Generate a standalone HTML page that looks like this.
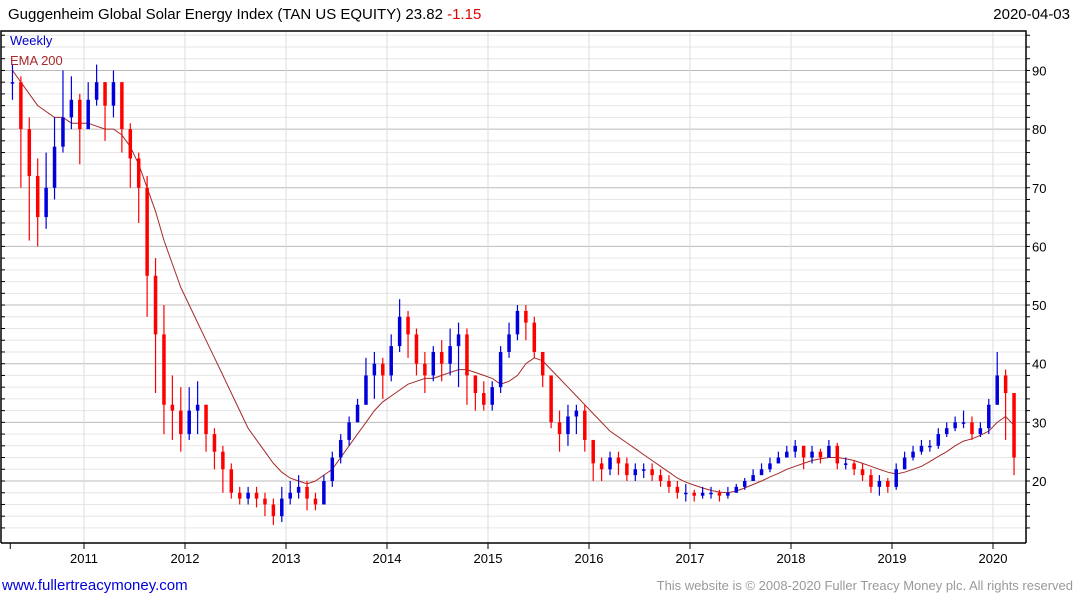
<!DOCTYPE html>
<html><head><meta charset="utf-8"><style>
html,body{margin:0;padding:0;background:#fff;}
svg{display:block;font-family:"Liberation Sans","DejaVu Sans",sans-serif;}
</style></head><body>
<svg id="chart" width="1075" height="600" viewBox="0 0 1075 600" xmlns="http://www.w3.org/2000/svg">
<text x="8" y="19" font-size="15" fill="#000">Guggenheim Global Solar Energy Index (TAN US EQUITY) 23.82 <tspan fill="#e00000">-1.15</tspan></text>
<text x="1070" y="19" font-size="15" fill="#000" text-anchor="end">2020-04-03</text>
<g id="grid"></g>
<g id="ema"></g>
<g id="bars"></g>
<g id="axes"></g>
<text x="10" y="45" font-size="13" fill="#0000cc">Weekly</text>
<text x="10" y="65" font-size="13" fill="#a52a2a">EMA 200</text>
<text x="2" y="590" font-size="15" fill="#0000dd">www.fullertreacymoney.com</text>
<text x="1073" y="590" font-size="13" fill="#999" text-anchor="end">This website is © 2008-2020 Fuller Treacy Money plc. All rights reserved</text>
</svg>
<script>
const closes=[88,80,72,65,70,77,82,85,80,
85,88,84,88,80,75,70,55,45,33,32,28,
32,33,28,25,22,18,17,18,17,16,14,17,
18,19,17,16,20,24,27,30,33,38,40,38,
43,48,45,40,38,42,40,43,45,38,35,33,
36,42,45,49,47,42,38,30,28,31,32,27,
23,22,24,23,21,22,22,21,20,19,18,18,
17.5,18,18,17.5,18,19,20,21,22,23,24,25,
26,24,25,24,26,23,23,22,21,19,20,19,
22,24,25,26,26,28,29,30,30,28,29,33,
38,35,24];
const highs=[91,89,82,75,76,82,90,89,86,
88,91,88,90,88,81,76,72,58,50,38,36,
36,37,33,29,26,23,19,19,19,18,17,19,
20,21,20,18,21,25,28,31,34,41,42,41,
45,51,49,46,42,43,44,46,47,46,38,37,
37,43,47,50,50,48,42,38,32,33,33,33,
27,24,25,25,24,23,23,23,22,21,20,19.5,
18.5,19,19,18.5,19,19.5,20.5,22,23,24,25,26,
27,26,26,25.5,27,26.5,24,23.5,23,22,21,20.5,
23,25,26,27,27,29,30,31,32,31,30,34,
42,39,35];
const lows=[85,70,61,60,63,68,76,80,74,
80,84,78,82,76,70,64,48,35,28,27,25,
27,28,25,22,18,17,16,16,15.5,14,12.5,13,
16,17,15,15,16,19,23,26,30,33,34,34,
37,42,41,38,35,37,37,38,36,33,32,32,
32,35,41,44,44,41,36,29,25,26,28,25,
20,20,21,21,20,20,20.5,20,19,18,17,16.5,
16.5,17,17,16.5,17,18,18.5,20,21,21.5,23,24,
24,22,23,23,24,22,22,21,20,18,17.5,18,
18.5,22,23.5,24.5,25,25.5,27.5,28.5,29,27,27.5,28,
33,27,21];
const emaVals=[90,88,86,84,83,82,82,81,81,
81,80.5,80,80,79,77,74,70,66,61,57,53,
50,47,44,41,38,35,32,29,27,25,23,21.5,
20.5,20,19.5,20,21,22,24,26,28,30,32,33.5,
34.5,35.5,36.5,37,37.5,37.5,38,38.5,39,39,38.5,38,
37.5,36.5,37,38,40,41,40.5,39,37.5,36,34.5,33,
31.5,30,28.5,27.5,26.5,25.5,24.5,23.5,22.5,21.5,20.5,19.8,
19.3,18.8,18.4,18.1,18.0,18.3,18.8,19.4,20,20.7,21.3,22,
22.5,23,23.5,23.8,24,24,23.8,23.5,23,22.5,22,21.5,
21.2,21.5,22,22.5,23.3,24.2,25,26,26.8,27.2,27.8,28.5,
30,31,29.5];
const yearLabels=["2011","2012","2013","2014","2015","2016","2017","2018","2019","2020"];
const priceTicks=[20,30,40,50,60,70,80,90];

const NS="http://www.w3.org/2000/svg";
const L=1,R=1026,T=31,B=543;
function xYear(t){return 84+(t-2011)*101;}
function xMonth(i){return xYear(2010.25+(i+0.5)/12);}
function yVal(v){return 481-(v-20)*5.865;}
function mk(tag,attrs,parent){const e=document.createElementNS(NS,tag);for(const k in attrs)e.setAttribute(k,attrs[k]);parent.appendChild(e);return e;}
const grid=document.getElementById('grid'),axes=document.getElementById('axes'),bars=document.getElementById('bars'),emaG=document.getElementById('ema');
for(let v=12;v<=96;v+=2){const y=yVal(v);if(y<T||y>B)continue;
 const major=v%10===0;
 const ln=mk('line',{x1:L,x2:R,y1:y,y2:y,stroke:major?'#bbb':'#e6e6e6','stroke-width':1},grid);
 
 
 const tk=mk('line',{x1:R,x2:R+4,y1:y,y2:y,stroke:'#000'},axes);
 
 
 const tl=mk('line',{x1:L,x2:L+4,y1:y,y2:y,stroke:'#000'},axes);
 
 
}
priceTicks.forEach(v=>{const t=mk('text',{x:R+6,y:yVal(v)+5,'font-size':13,fill:'#000'},axes);t.textContent=v;
 
 });
yearLabels.forEach((s,i)=>{const x=xYear(+s);
 const g=mk('line',{x1:x,x2:x,y1:T,y2:B,stroke:'#ddd'},grid);
 
 
 const tk=mk('line',{x1:x,x2:x,y1:B,y2:B+6,stroke:'#000'},axes);
 
 
 const t=mk('text',{x:x,y:B+20,'font-size':13,'text-anchor':'middle',fill:'#000'},axes);t.textContent=s;
 
 });
const t0=mk('line',{x1:xYear(2010.27),x2:xYear(2010.27),y1:B,y2:B+6,stroke:'#000'},axes);


const fr=mk('polyline',{points:`${L},${B} ${L},${T} ${R},${T} ${R},${B}`,fill:'none',stroke:'#000','stroke-width':1.5},axes);


const bl=mk('line',{x1:L,x2:R,y1:B,y2:B,stroke:'#000','stroke-width':1.5},axes);


const pts=emaVals.map((v,i)=>xMonth(i).toFixed(1)+','+yVal(v).toFixed(1)).join(' ');
const el=mk('polyline',{points:pts,fill:'none',stroke:'#a52a2a','stroke-width':1},emaG);


closes.forEach((c,i)=>{const o=i>0?closes[i-1]:c;const up=c>=o;const col=up?'#0000dd':'#ff0000';const x=xMonth(i);
 const w=mk('line',{x1:x,x2:x,y1:yVal(highs[i]),y2:yVal(lows[i]),stroke:col,'stroke-width':1.2},bars);
 
 
 const yt=yVal(Math.max(o,c)),yb=yVal(Math.min(o,c));
 const r=mk('rect',{x:x-1.75,y:yt,width:3.5,height:Math.max(1.5,yb-yt),fill:col},bars);
 
 
});
</script>
</body></html>
